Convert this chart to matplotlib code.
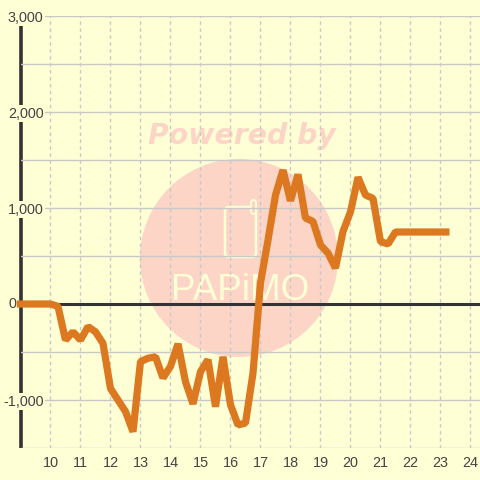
import matplotlib
matplotlib.use('Agg')
import matplotlib.pyplot as plt
from matplotlib.patches import Circle, FancyBboxPatch
from matplotlib.ticker import FuncFormatter
from matplotlib.transforms import Affine2D

hours = [8.88, 9.25, 9.5, 9.75, 10, 10.25, 10.5, 10.75, 11, 11.25, 11.5, 11.75,
         12, 12.25, 12.5, 12.75, 13, 13.25, 13.5, 13.75, 14, 14.25, 14.5, 14.75,
         15, 15.25, 15.5, 15.75, 16, 16.25, 16.5, 16.75, 17, 17.25, 17.5, 17.75,
         18, 18.25, 18.5, 18.75, 19, 19.25, 19.5, 19.75, 20, 20.25, 20.5, 20.75,
         21, 21.25, 21.5, 21.75, 22, 22.25, 22.5, 22.75, 23, 23.3]
values = [0, 0, 0, 0, 0, -25, -375, -290, -375, -236, -290, -410,
          -880, -1000, -1120, -1330, -600, -565, -550, -770, -650, -415, -810, -1040,
          -705, -580, -1070, -550, -1050, -1260, -1240, -720, 220, 665, 1135, 1395,
          1075, 1350, 895, 860, 615, 530, 375, 755, 960, 1320, 1135, 1100,
          650, 625, 750, 750, 750, 750, 750, 750, 750, 750]
x_ticks = list(range(10, 25))
y_grid = list(range(-1500, 3001, 500))
y_ticks = [-1000, 1000, 2000, 3000]

BG = '#ffffd6'
GRID = '#c8c8c8'
DARK = '#333333'
TEXT = '#444444'
ORANGE = '#dc7820'
MARK = '#fcd5c6'

plt.rcParams['font.family'] = ['Liberation Sans', 'DejaVu Sans']

fig = plt.figure(figsize=(4.8, 4.8), dpi=100, facecolor=BG)
ax = fig.add_axes([20.5 / 480, 32 / 480, 459.5 / 480, 432 / 480], facecolor=BG)
ax.set_xlim(9, 24.317)
ax.set_ylim(-1500, 3000)

# watermark, placed in pixels from the top left
pix = Affine2D().scale(1, -1).translate(0, 480)
ax.add_patch(Circle((239, 258), 99, transform=pix, color=MARK, lw=0, zorder=0.1))
ax.add_patch(FancyBboxPatch((225, 207), 31, 50, boxstyle='round,pad=0,rounding_size=4',
                            transform=pix, fc='none', ec=BG, lw=1.8, zorder=0.2))
ax.add_patch(FancyBboxPatch((251, 200), 5, 14, boxstyle='round,pad=0,rounding_size=2.5',
                            transform=pix, fc=MARK, ec=BG, lw=1.4, zorder=0.2))
ax.text(242, 136, 'Powered by', transform=pix, ha='center', va='center', color=MARK,
        fontsize=20.4, fontweight='bold', fontstyle='italic', family='DejaVu Sans', zorder=0.2)
ax.text(240, 290, 'PAPiMO', transform=pix, ha='center', va='center', color=BG,
        fontsize=26.5, zorder=0.2)

ax.set_xticks(x_ticks)
ax.set_yticks(y_grid)
ax.yaxis.set_major_formatter(FuncFormatter(lambda v, p: f'{int(v):,}' if v in y_ticks else ''))
ax.grid(True, axis='y', color=GRID, lw=1)
ax.grid(True, axis='x', color=GRID, lw=1, linestyle=(0, (2.5, 2.5)))
ax.set_axisbelow(True)
ax.tick_params(length=0, labelcolor=TEXT, labelsize=10.4)
ax.tick_params(axis='x', pad=5.5)
ax.tick_params(axis='y', pad=-16.5)
for lab in ax.get_yticklabels():
    if lab.get_text():
        lab.set_bbox(dict(facecolor=BG, edgecolor='none', pad=1))
for s in ax.spines.values():
    s.set_visible(False)

# the 0 label sits left of the axis line, unlike the others
ax.annotate('0', xy=(9, 0), xytext=(-3.2, 0), textcoords='offset points', ha='right', va='center',
            color=TEXT, fontsize=10.4, annotation_clip=False)

# left axis line sits under the label boxes
ax.plot([9, 9], [-1500, 3000], color=DARK, lw=2.6, clip_on=False, zorder=0.4, solid_capstyle='butt')
ax.axhline(0, color=DARK, lw=2.2, zorder=2)
ax.plot(hours, values, color=ORANGE, lw=5.2, solid_joinstyle='bevel', solid_capstyle='butt',
        clip_on=False, zorder=3)

fig.savefig('out.png', dpi=100, facecolor=BG)
